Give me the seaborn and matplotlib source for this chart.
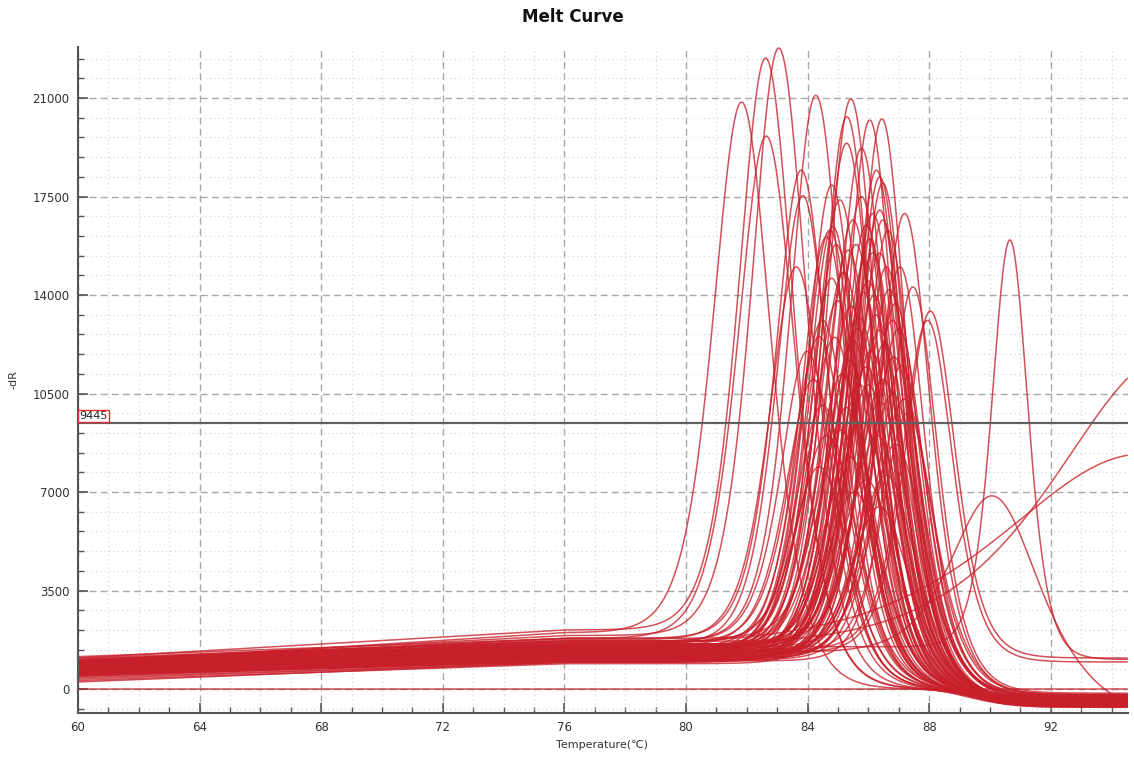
import numpy as np
import pandas as pd
import matplotlib
matplotlib.use("Agg")
import matplotlib.pyplot as plt
import seaborn as sns
from matplotlib.ticker import MultipleLocator

# ---------------- data ----------------
# main melt peaks: peak temperature (°C), peak -dR value, peak width (°C)
peak_temp = [81.84, 82.63, 83.06, 82.65, 84.28, 85.43, 85.30, 85.29, 85.78, 86.05,
             86.45, 83.80, 83.85, 84.80, 87.20, 85.07, 85.78, 86.27, 86.38, 86.48,
             86.38, 86.15, 86.48, 85.50, 85.94, 84.74, 84.84, 84.63, 83.64, 84.80,
             86.38, 87.47, 84.50, 86.38, 84.40, 85.50, 86.80, 85.40, 85.95, 84.50,
             84.40, 85.40, 86.38, 85.95, 85.60, 85.90, 86.00, 86.20, 86.60, 86.70,
             86.90, 87.00, 85.20, 85.00, 84.90, 85.70, 86.10, 86.50, 86.80, 87.10,
             85.30, 85.80, 86.30, 84.20, 84.00, 86.90, 87.30, 85.10, 86.60, 85.65,
             86.25, 86.00, 85.35, 86.65, 85.85, 86.40, 85.55, 87.05, 84.95, 86.15,
             85.45, 86.05, 85.75, 86.55, 84.65, 85.15, 86.85, 87.20]
peak_height = [20860, 22420, 22780, 19650, 21100, 20970, 20340, 19400, 19220, 20220,
               20260, 18440, 17530, 17910, 16900, 17380, 17500, 18440, 18200, 17980,
               17020, 16900, 16670, 16670, 16490, 16310, 16430, 16070, 15000, 14600,
               15490, 14290, 13110, 12760, 12520, 12400, 13110, 11690, 11450, 10090,
               7900, 8250, 6480, 7430, 15800, 15200, 14500, 14000, 15000, 14200,
               13700, 12800, 14800, 13800, 12500, 13200, 12000, 11000, 10500, 11500,
               10000, 9500, 9000, 11000, 12000, 8700, 9800, 9200, 7600, 12800,
               13300, 10800, 15600, 16300, 14100, 10200, 7000, 15000, 15800, 15500,
               13600, 16000, 10800, 12300, 9000, 11200, 11800, 10300]
peak_width = [1.25, 1.20, 1.20, 1.25, 1.15, 1.10, 1.10, 1.15, 1.10, 1.05,
              1.05, 1.15, 1.15, 1.10, 1.10, 1.15, 1.10, 1.05, 1.05, 1.05,
              1.10, 1.10, 1.05, 1.15, 1.10, 1.15, 1.10, 1.15, 1.20, 1.15,
              1.10, 1.05, 1.15, 1.10, 1.20, 1.15, 1.10, 1.20, 1.15, 1.20,
              1.25, 1.20, 1.25, 1.20, 1.10, 1.10, 1.15, 1.10, 1.05, 1.10,
              1.05, 1.10, 1.15, 1.15, 1.20, 1.15, 1.15, 1.20, 1.15, 1.10,
              1.20, 1.25, 1.25, 1.20, 1.15, 1.20, 1.10, 1.20, 1.25, 1.15,
              1.10, 1.20, 1.10, 1.05, 1.10, 1.20, 1.25, 1.05, 1.10, 1.10,
              1.15, 1.10, 1.20, 1.15, 1.25, 1.20, 1.15, 1.20]
# baseline at 60 °C, baseline at 76-80 °C, final level after melting
base_60 = [900, 1100, 1000, 950, 800, 700, 850, 600, 750, 650,
           900, 1000, 800, 700, 600, 850, 500, 750, 950, 700,
           600, 800, 650, 900, 550, 700, 1050, 800, 950, 600,
           750, 500, 850, 700, 1000, 650, 800, 550, 900, 700,
           400, 750, 600, 850, 700, 950, 500, 800, 650, 1100,
           750, 600, 900, 700, 850, 500, 1000, 650, 750, 550,
           800, 700, 300, 900, 1050, 600, 750, 850, 450, 700,
           950, 600, 800, 650, 1000, 550, 350, 700, 900, 750,
           1150, 450, 850, 600, 1000, 250, 700, 900]
base_80 = [2000, 2100, 1900, 1800, 1700, 1300, 1500, 1200, 1400, 1250,
           1500, 1800, 1600, 1400, 1100, 1500, 1000, 1300, 1600, 1250,
           1100, 1400, 1150, 1500, 1050, 1300, 1700, 1400, 1750, 1150,
           1300, 1000, 1500, 1200, 1650, 1150, 1350, 1000, 1500, 1250,
           950, 1300, 1050, 1400, 1200, 1550, 1000, 1350, 1150, 1700,
           1300, 1100, 1500, 1250, 1450, 1000, 1600, 1150, 1300, 1050,
           1400, 1250, 900, 1550, 1700, 1100, 1300, 1450, 1000, 1250,
           1550, 1100, 1400, 1150, 1600, 1050, 950, 1200, 1500, 1300,
           1800, 1000, 1450, 1150, 1650, 950, 1250, 1500]
base_end = [-300, -450, -500, -350, -400, -550, -250, -600, -450, -350,
            -500, -300, -400, -550, -200, -450, -600, -350, -500, -400,
            -650, -300, -450, -550, -250, -400, -500, -350, -600, -450,
            -300, -150, -500, -400, -550, -350, -250, -600, -450, -400,
            -300, -500, -350, -450, -550, -400, -600, -300, -500, -350,
            -250, -200, -450, -550, -400, -500, -350, -600, -300, -250,
            -450, -500, -400, -350, -450, -300, -200, -550, -400, -500,
            -350, -450, -600, -400, -500, -350, -450, -300, -550, -400,
            -500, -350, -650, -450, -300, -550, -400, -250]

# special wells: late peaks that settle high, isolated peaks, rising wells, empty well
spec_temp   = [88.05, 87.96, 90.66, 90.10, 96.0, 95.0, 75.0]
spec_height = [13430, 13100, 15960, 6860, 11900, 8350, 0]
spec_width  = [1.10, 1.10, 0.80, 1.80, 5.0, 6.0, 1.0]
spec_b60    = [700, 800, 900, 650, 600, 700, 0]
spec_b80    = [1300, 1400, 1500, 1300, 1500, 1500, 0]
spec_end    = [1100, 960, 1050, -800, 1500, 1500, 0]
spec_drop   = [88.9, 88.8, 91.3, 91.9, 99.0, 99.0, 90.0]
spec_settle = [88.8, 88.8, 91.2, 93.5, 89.0, 89.0, 89.0]

threshold = 9445
x_ticks = [60, 64, 68, 72, 76, 80, 84, 88, 92]
y_ticks = [0, 3500, 7000, 10500, 14000, 17500, 21000]

# ---------------- build long-form table ----------------
temps = np.arange(60.0, 94.56, 0.04)


def well_curve(tm, h, w, b60, b80, end, drop, settle):
    def base(t):
        pre = b60 + (b80 - b60) * np.clip((t - 60) / 16.0, 0, 1)
        s1 = 1 / (1 + np.exp(-(t - drop) / 0.7))
        s2 = 1 / (1 + np.exp(-(t - settle) / 0.6))
        return pre * (1 - s1) + end * s2 * s1
    amp = h - base(np.array(tm))
    return base(temps) + amp / np.cosh((temps - tm) / w) ** 2


rows = []
wid = 0
for i in range(len(peak_temp)):
    y = well_curve(peak_temp[i], peak_height[i], peak_width[i], base_60[i], base_80[i],
                   base_end[i], peak_temp[i] + 1.5, 89.3)
    rows.append(pd.DataFrame({"T": temps, "dR": y, "well": wid}))
    wid += 1
for i in range(len(spec_temp)):
    y = well_curve(spec_temp[i], spec_height[i], spec_width[i], spec_b60[i], spec_b80[i],
                   spec_end[i], spec_drop[i], spec_settle[i])
    rows.append(pd.DataFrame({"T": temps, "dR": y, "well": wid}))
    wid += 1
df = pd.concat(rows, ignore_index=True)

# ---------------- plot ----------------
sns.set_theme(style="white")
plt.rcParams["font.family"] = ["DejaVu Sans"]

fig = plt.figure(figsize=(11.34, 7.57), dpi=100)
ax = fig.add_axes([78 / 1134, 1 - 713 / 757, (1128 - 78) / 1134, (713 - 47) / 757])

red = "#c8202b"
sns.lineplot(data=df, x="T", y="dR", units="well", estimator=None, color=red,
             linewidth=1.1, alpha=0.78, ax=ax, legend=False)

ax.axhline(threshold, color="#606060", lw=1.6, zorder=3)
ax.text(60.05, threshold + 80, str(threshold), fontsize=8, color="#222222",
        ha="left", va="bottom", zorder=4,
        bbox=dict(boxstyle="square,pad=0.12", fc="white", ec="#e03030", lw=1.0))

ax.set_xlim(60, 94.54)
ax.set_ylim(-853, 22815)
ax.set_xticks(x_ticks)
ax.set_yticks(y_ticks)
ax.xaxis.set_minor_locator(MultipleLocator(1))
ax.yaxis.set_minor_locator(MultipleLocator(700))

ax.grid(which="major", color="#a8a8a8", linestyle=(0, (5, 3)), lw=1.0)
ax.grid(which="minor", color="#d8d8d8", linestyle=(0, (1, 2.5)), lw=0.9)
ax.set_axisbelow(True)

for s in ["top", "right"]:
    ax.spines[s].set_visible(False)
for s in ["left", "bottom"]:
    ax.spines[s].set_color("#555555")
    ax.spines[s].set_linewidth(1.5)

ax.tick_params(which="major", direction="in", length=7, width=1.2, color="#555555",
               labelsize=8.5, labelcolor="#333333", pad=6)
ax.tick_params(which="minor", direction="in", length=4, width=1.0, color="#555555")
ax.tick_params(axis="x", which="both", bottom=True)
ax.tick_params(axis="y", which="both", left=True)

ax.set_xlabel("")
ax.set_ylabel("")
fig.text(573 / 1134, 1 - 17 / 757, "Melt Curve", fontsize=12, fontweight="bold",
         ha="center", va="center", color="#111111")
fig.text(602 / 1134, 1 - 745 / 757, "Temperature(℃)", fontsize=8, ha="center",
         va="center", color="#333333")
fig.text(13 / 1134, 1 - 380 / 757, "-dR", fontsize=8, rotation=90, ha="center",
         va="center", color="#333333")

fig.savefig("out.png", dpi=100)
